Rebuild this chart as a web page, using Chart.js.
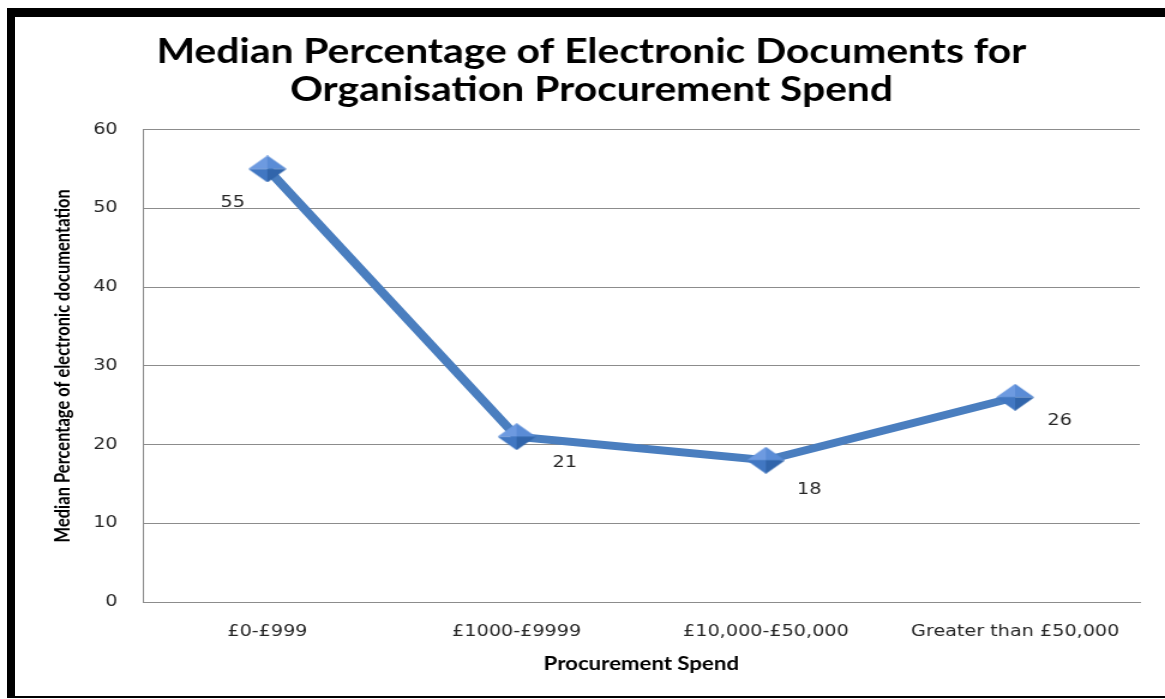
<!DOCTYPE html>
<html>
<head>
<meta charset="utf-8">
<script src="https://cdn.jsdelivr.net/npm/chart.js@4.4.0/dist/chart.umd.min.js"></script>
<style>
  html, body { margin: 0; padding: 0; background: #fff; overflow: hidden; }
  #wrap { position: relative; width: 1165px; height: 699px; }
  #chart { position: absolute; left: 0; top: 0; }
  #frame {
    position: absolute; left: 7px; top: 8px; right: -20px; bottom: 1px;
    border-top: 9px solid #000; border-left: 8px solid #000; border-bottom: 2px solid #000;
    pointer-events: none;
  }
</style>
</head>
<body>
<div id="wrap">
  <!-- the original picture is stretched sideways, so the canvas is drawn narrower and widened by css -->
  <canvas id="chart" width="971" height="699" style="width:1165px;height:699px"></canvas>
  <div id="frame"></div>
</div>
<script>
const spendBands = ['£0-£999', '£1000-£9999', '£10,000-£50,000', 'Greater than £50,000'];
const spendMedian = [55, 21, 18, 26];
const yTicks = [0, 10, 20, 30, 40, 50, 60];

// label offsets from each point (canvas units)
const labelDx = [-29, 40, 36, 37];
const labelDy = [34, 26, 30, 24];

const blue = '#4a7ebf';
const tickColor = '#262626';
const gridColor = '#8c8c8c';

function makeDiamond(w, h) {
  const c = document.createElement('canvas');
  c.width = w; c.height = h;
  const g = c.getContext('2d');
  const cx = w / 2, cy = h / 2;
  function facet(pts, col) {
    g.beginPath();
    g.moveTo(pts[0][0], pts[0][1]);
    for (let i = 1; i < pts.length; i++) g.lineTo(pts[i][0], pts[i][1]);
    g.closePath();
    g.fillStyle = col;
    g.fill();
  }
  facet([[0, cy], [cx, 0], [cx, cy]], '#6d9ae0');
  facet([[cx, 0], [w, cy], [cx, cy]], '#5a8cd6');
  facet([[w, cy], [cx, h], [cx, cy]], '#3165ab');
  facet([[cx, h], [0, cy], [cx, cy]], '#4177c2');
  return c;
}
const diamond = makeDiamond(32, 27);

const valueLabels = {
  id: 'valueLabels',
  afterDatasetsDraw(chart) {
    const ctx = chart.ctx;
    const meta = chart.getDatasetMeta(0);
    ctx.save();
    ctx.font = '16px "DejaVu Sans"';
    ctx.fillStyle = tickColor;
    ctx.textAlign = 'center';
    ctx.textBaseline = 'middle';
    meta.data.forEach((pt, i) => {
      ctx.fillText(String(spendMedian[i]), pt.x + labelDx[i], pt.y + labelDy[i]);
    });
    ctx.restore();
  }
};

new Chart(document.getElementById('chart'), {
  type: 'line',
  data: {
    labels: spendBands,
    datasets: [{
      data: spendMedian,
      borderColor: blue,
      borderWidth: 8,
      tension: 0,
      pointStyle: diamond,
      pointRadius: 13,
      fill: false
    }]
  },
  options: {
    responsive: false,
    animation: false,
    layout: { padding: { top: 0, right: 19, bottom: 0, left: 34 } },
    plugins: {
      legend: { display: false },
      tooltip: { enabled: false },
      title: {
        display: true,
        text: ['Median Percentage of Electronic Documents for', 'Organisation Procurement Spend'],
        color: '#000',
        font: { family: 'Lato', size: 34, weight: 'bold', lineHeight: 1.126 },
        padding: { top: 33, bottom: 20 }
      }
    },
    scales: {
      x: {
        offset: true,
        grid: { display: false, drawTicks: false },
        border: { display: true, color: gridColor, width: 1 },
        ticks: { color: tickColor, padding: 20, font: { family: 'DejaVu Sans', size: 16 } },
        title: {
          display: true,
          text: 'Procurement Spend',
          color: '#000',
          font: { family: 'Lato', size: 18.5, weight: 'bold' },
          padding: { top: 0, bottom: 24 }
        },
        afterFit(scale) { scale.height = 97; }
      },
      y: {
        min: 0,
        max: 60,
        afterBuildTicks(scale) { scale.ticks = yTicks.map(v => ({ value: v })); },
        grid: { color: gridColor, lineWidth: 1, drawTicks: false },
        border: { display: true, color: gridColor, width: 1 },
        ticks: { color: tickColor, padding: 21, font: { family: 'DejaVu Sans', size: 16 } },
        title: {
          display: true,
          text: 'Median Percentage of electronic documentation',
          color: '#000',
          font: { family: 'Lato', size: 16.5, weight: 'bold' },
          padding: { top: 9, bottom: 0 }
        },
        afterFit(scale) { scale.width = 85; }
      }
    }
  },
  plugins: [valueLabels]
});
</script>
</body>
</html>
